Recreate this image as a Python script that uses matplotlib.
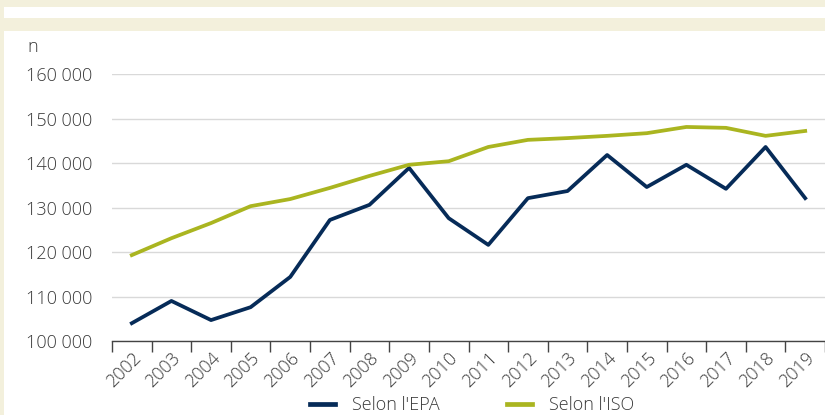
import matplotlib.pyplot as plt
from matplotlib.patches import Rectangle
from matplotlib.ticker import FuncFormatter
import numpy as np

plt.rcParams['font.family'] = ['Open Sans', 'DejaVu Sans']
plt.rcParams['font.weight'] = 'light'

years = [str(y) for y in range(2002, 2020)]
epa = [104000, 109000, 104700, 107600, 114400, 127200, 130600, 138900, 127600,
       121600, 132100, 133700, 141800, 134600, 139600, 134200, 143600, 132100]
iso = [119300, 123100, 126500, 130300, 131900, 134400, 137100, 139600, 140400,
       143600, 145200, 145600, 146100, 146700, 148100, 147900, 146100, 147200]

cream = '#f3f0dc'
navy = '#062b58'
olive = '#aab520'
txt = '#3a3a3a'

fig = plt.figure(figsize=(8.25, 4.15), dpi=100, facecolor=cream)
# white panels behind everything
fig.patches.append(Rectangle((4/825, 1-18/415), 1, 11/415, transform=fig.transFigure,
                             facecolor='white', edgecolor='none', zorder=-10))
fig.patches.append(Rectangle((4/825, 0), 1, 1-31/415, transform=fig.transFigure,
                             facecolor='white', edgecolor='none', zorder=-10))

ax = fig.add_axes([112/825, 1-341/415, 1-112/825, (341-74)/415])
ax.set_facecolor('none')
x = np.arange(len(years))
ax.plot(x, epa, color=navy, lw=2.7, label="Selon l'EPA")
ax.plot(x, iso, color=olive, lw=2.7, label="Selon l'ISO")

ax.set_xlim(-0.5, len(years)-0.5)
ax.set_ylim(100000, 160000)
ax.set_yticks(range(100000, 160001, 10000))
ax.yaxis.set_major_formatter(FuncFormatter(lambda v, p: f'{int(v):,}'.replace(',', ' ')))
ax.grid(axis='y', color='#d9d9d9', lw=1)
ax.set_axisbelow(True)
for s in ['top', 'right', 'left']:
    ax.spines[s].set_visible(False)
ax.spines['bottom'].set_color('#444444')
ax.spines['bottom'].set_linewidth(1)
ax.tick_params(axis='y', length=0, pad=14, labelsize=13, labelcolor=txt)

ax.set_xticks(x)
ax.set_xticklabels(years, rotation=45, ha='right', rotation_mode='anchor')
ax.set_xticks(np.arange(-0.5, len(years)), minor=True)
ax.tick_params(axis='x', which='major', length=0, pad=6, labelsize=13, labelcolor=txt)
ax.tick_params(axis='x', which='minor', length=8, color='#444444', width=1)

fig.text(27/825, 1-47/415, 'n', fontsize=13, color=txt, va='center', ha='left')

leg = fig.legend(loc='center', bbox_to_anchor=(472/825, 1-405/415), ncol=2, frameon=False,
                 fontsize=13, handlelength=1.4, handletextpad=0.95, columnspacing=3.7,
                 labelcolor=txt)
for h in leg.legend_handles:
    h.set_linewidth(3.4)

fig.savefig('out.png', dpi=100, facecolor=cream)
